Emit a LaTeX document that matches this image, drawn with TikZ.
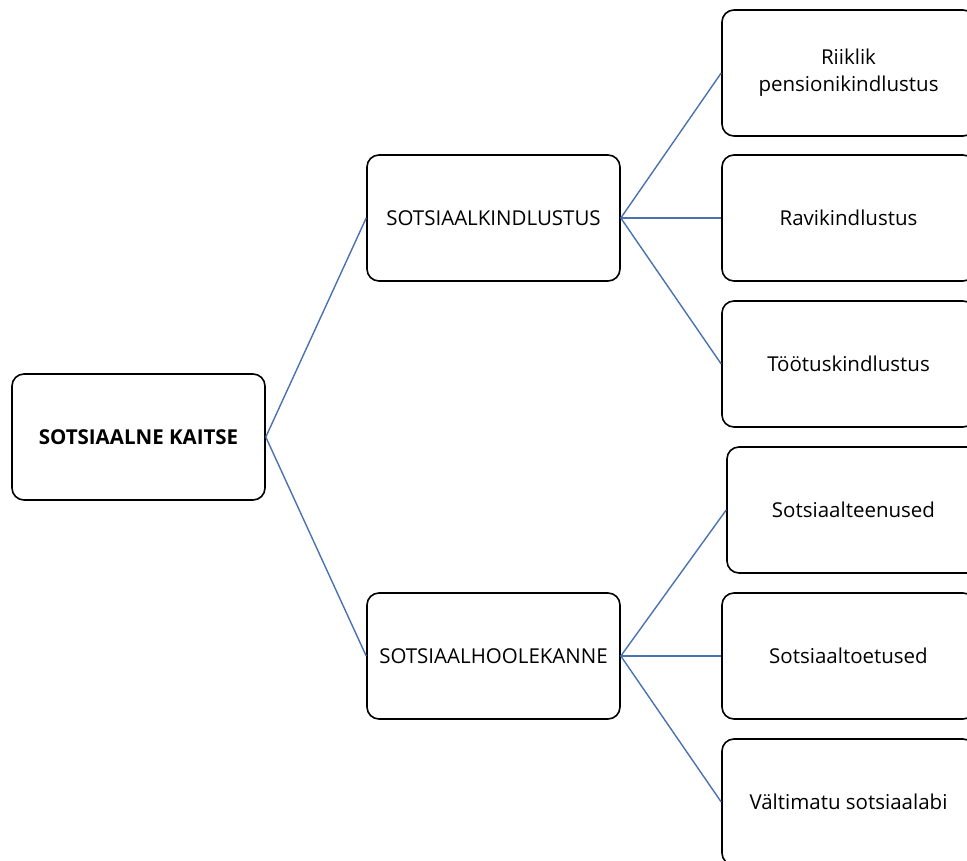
\documentclass[tikz,border=0pt]{standalone}
\usepackage{fontspec}
\setmainfont{Open Sans}
\usepackage{xcolor}
\usepackage{tikz}
\usetikzlibrary{positioning}
\definecolor{linkblue}{HTML}{4A72B0}
\tikzstyle{boxnode}=[rectangle,draw=black,line width=1.6pt,fill=white,
  rounded corners=12pt,minimum height=126pt,minimum width=253pt,
  font=\fontsize{20.5}{27}\selectfont,align=center,inner sep=0pt]
\tikzstyle{link}=[line width=1.4pt,color=linkblue]

\begin{document}
\begin{tikzpicture}[x=1pt,y=-1pt]
  \useasboundingbox (0,0) rectangle (967,861);
  \node[boxnode] (root) at (138.5,437) {\bfseries SOTSIAALNE KAITSE};
  \node[boxnode] (kind) at (493.5,218) {SOTSIAALKINDLUSTUS};
  \node[boxnode] (hool) at (493.5,656) {SOTSIAALHOOLEKANNE};
  \node[boxnode] (pens) at (848.5,73) {Riiklik\\pensionikindlustus};
  \node[boxnode] (ravi) at (848.5,218) {Ravikindlustus};
  \node[boxnode] (toot) at (848.5,364) {Töötuskindlustus};
  \node[boxnode] (teen) at (853.5,510) {Sotsiaalteenused};
  \node[boxnode] (toet) at (848.5,656) {Sotsiaaltoetused};
  \node[boxnode] (abi) at (848.5,802) {Vältimatu sotsiaalabi};
  \draw[link] (root.east) -- (kind.west);
  \draw[link] (root.east) -- (hool.west);
  \draw[link] (kind.east) -- (pens.west);
  \draw[link] (kind.east) -- (ravi.west);
  \draw[link] (kind.east) -- (toot.west);
  \draw[link] (hool.east) -- (teen.west);
  \draw[link] (hool.east) -- (toet.west);
  \draw[link] (hool.east) -- (abi.west);
\end{tikzpicture}
\end{document}
